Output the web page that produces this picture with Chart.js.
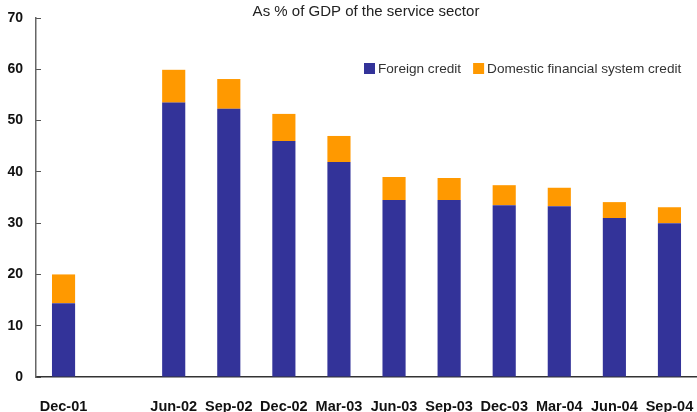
<!DOCTYPE html>
<html>
<head>
<meta charset="utf-8">
<script src="https://cdn.jsdelivr.net/npm/chart.js@4.4.1/dist/chart.umd.min.js"></script>
<style>
  html, body { margin: 0; padding: 0; background: #fff; }
  #wrap { width: 697px; height: 412px; }
</style>
</head>
<body>
<div id="wrap"><canvas id="creditChart" width="697" height="412"></canvas></div>
<script>
const quarters = ['Dec-01', '', 'Jun-02', 'Sep-02', 'Dec-02', 'Mar-03', 'Jun-03', 'Sep-03', 'Dec-03', 'Mar-04', 'Jun-04', 'Sep-04'];
const foreignCredit = [14.4, null, 53.5, 52.3, 46.0, 41.9, 34.5, 34.5, 33.5, 33.3, 31.0, 30.0];
const domesticCredit = [5.6, null, 6.4, 5.8, 5.3, 5.1, 4.5, 4.3, 3.9, 3.6, 3.1, 3.1];
const yTicks = { min: 0, max: 70, step: 10 };

const titleText = 'As % of GDP of the service sector';
const FONT = '"Liberation Sans", Arial, sans-serif';

// title and legend sit inside the plot area, so they are drawn by hand
const headerPlugin = {
    id: 'header',
    afterDraw(chart) {
        const ctx = chart.ctx;
        ctx.save();
        ctx.fillStyle = '#222';
        ctx.font = '15px ' + FONT;
        ctx.textAlign = 'center';
        ctx.textBaseline = 'middle';
        ctx.fillText(titleText, 366, 12);

        ctx.font = '13.6px ' + FONT;
        ctx.textAlign = 'left';
        let x = 364;
        const y = 69;
        chart.data.datasets.forEach(ds => {
            ctx.fillStyle = ds.backgroundColor;
            ctx.fillRect(x, y - 6, 11, 11);
            ctx.fillStyle = '#333';
            ctx.fillText(ds.label, x + 14, y);
            x += 14 + ctx.measureText(ds.label).width + 12;
        });
        ctx.restore();
    }
};

new Chart(document.getElementById('creditChart'), {
    type: 'bar',
    data: {
        labels: quarters,
        datasets: [
            {
                label: 'Foreign credit',
                data: foreignCredit,
                backgroundColor: '#333399',
                barPercentage: 0.42,
                categoryPercentage: 1.0
            },
            {
                label: 'Domestic financial system credit',
                data: domesticCredit,
                backgroundColor: '#FF9900',
                barPercentage: 0.42,
                categoryPercentage: 1.0
            }
        ]
    },
    options: {
        responsive: false,
        animation: false,
        layout: { padding: { top: 18, left: 0, right: 0, bottom: 0 } },
        plugins: {
            legend: { display: false },
            title: { display: false },
            tooltip: { enabled: false }
        },
        scales: {
            x: {
                stacked: true,
                grid: { display: false },
                border: { color: '#333', width: 1.5 },
                ticks: {
                    color: '#111',
                    font: { family: FONT, size: 14.5, weight: 'bold' },
                    maxRotation: 0,
                    autoSkip: false,
                    padding: 13
                },
                afterFit(scale) {
                    scale.height = 35;
                    scale.paddingLeft = 0;
                    scale.paddingRight = 0;
                }
            },
            y: {
                stacked: true,
                min: yTicks.min,
                max: yTicks.max,
                grid: {
                    drawOnChartArea: false,
                    tickLength: -5,
                    color: '#555'
                },
                border: { color: '#666', width: 1.5 },
                ticks: {
                    stepSize: yTicks.step,
                    color: '#111',
                    font: { family: FONT, size: 14, weight: 'bold' },
                    padding: 18
                },
                afterFit(scale) {
                    scale.width = 36;
                    scale.paddingTop = 0;
                    scale.paddingBottom = 0;
                }
            }
        }
    },
    plugins: [headerPlugin]
});
</script>
</body>
</html>
